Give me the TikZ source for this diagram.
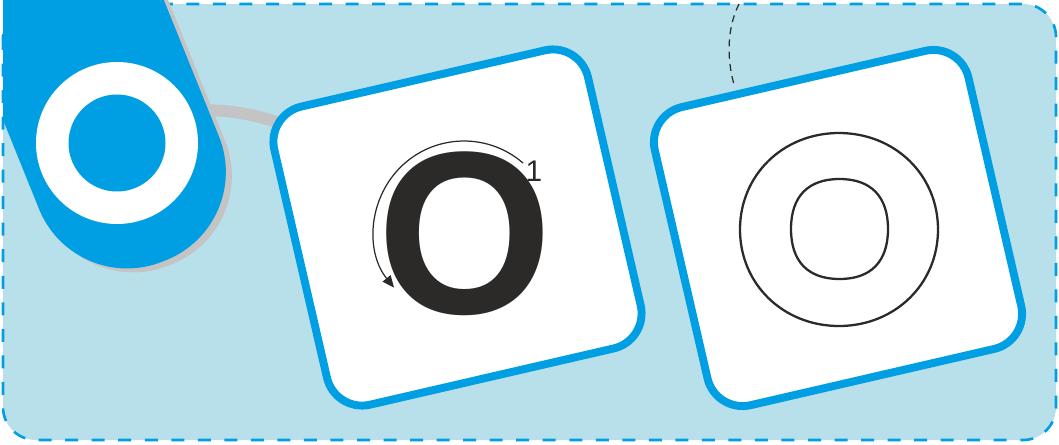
\documentclass[tikz,border=0pt]{standalone}
\usepackage{fontspec}
\setmainfont{Liberation Sans}
\usepackage{tikz}
\usetikzlibrary{arrows.meta}
\definecolor{tag-blue}{HTML}{009FE3}
\definecolor{bg-blue}{HTML}{B8E0EA}
\definecolor{cord-gray}{HTML}{C4C4C4}
\definecolor{ink}{HTML}{2B2A29}

\begin{document}
\begin{tikzpicture}[x=0.02cm, y=-0.02cm,
  card/.style={rectangle, draw=tag-blue, fill=white, line width=4.5pt,
               rounded corners=0.72cm, minimum width=6.44cm, minimum height=6.12cm, rotate=13},
  glyph/.style={inner sep=0pt, text=ink, font=\bfseries},
  digit/.style={inner sep=0pt, text=ink, font=\fontsize{17pt}{17pt}\selectfont},
  outl/.style={draw=ink, line width=1.3pt},
  arr/.style={-{Triangle[length=6.8pt, width=5.8pt]}, ink, line width=0.7pt}]

  \useasboundingbox (0,0) rectangle (1059,444);
  \draw[fill=bg-blue, draw=tag-blue, line width=1.5pt, dash pattern=on 7.4pt off 7.7pt,
        rounded corners=0.66cm] (3,4) rectangle (1056,440);

  \coordinate (hole) at (117,143);
  \coordinate (rim) at (739,4);
  \coordinate (c1pos) at (457.5,227.5);

  \draw[cord-gray, line width=6.8pt] (hole) .. controls (192,80) and (306,108) .. (c1pos);
  \draw[ink, line width=0.7pt, dash pattern=on 4pt off 3pt] (rim) .. controls (726,30) and (727,62) .. (735,88);

  \begin{scope}
    \clip (3,0) rectangle (1059,444);
    \fill[cord-gray, shift={(123,147)}, rotate=22, rounded corners=1.9cm] (-97,-400) rectangle (97,127);
    \fill[tag-blue, shift={(hole)}, rotate=22, rounded corners=1.9cm] (-97,-400) rectangle (97,127);
  \end{scope}
  \fill[white] (hole) circle[radius=81];
  \fill[tag-blue] (hole) circle[radius=48.5];

  \node[card] (c1) at (c1pos) {};
  \node[card] (c2) at (838,228) {};

  \node[glyph] (o1) at (465,234) {\resizebox*{3.5cm}{3.28cm}{O}};
  \node[digit] (n1) at (534,171) {1};
  \coordinate (sweep) at (464,231);
  \draw[arr] ([shift={(-49:90)}]sweep) arc[start angle=-49, end angle=-219, radius=90];

  \draw[outl] (938,229.5) .. controls (938,174.5) and (894.4,133) .. (839,133)
    .. controls (783.6,133) and (740,174.5) .. (740,229.5)
    .. controls (740,284.5) and (783.6,326) .. (839,326)
    .. controls (894.4,326) and (938,284.5) .. (938,229.5) -- cycle;
  \draw[outl] (888,229) .. controls (888,196.5) and (871,179) .. (839.5,179)
    .. controls (808,179) and (791,196.5) .. (791,229)
    .. controls (791,261.5) and (808,279) .. (839.5,279)
    .. controls (871,279) and (888,261.5) .. (888,229) -- cycle;

\end{tikzpicture}
\end{document}
